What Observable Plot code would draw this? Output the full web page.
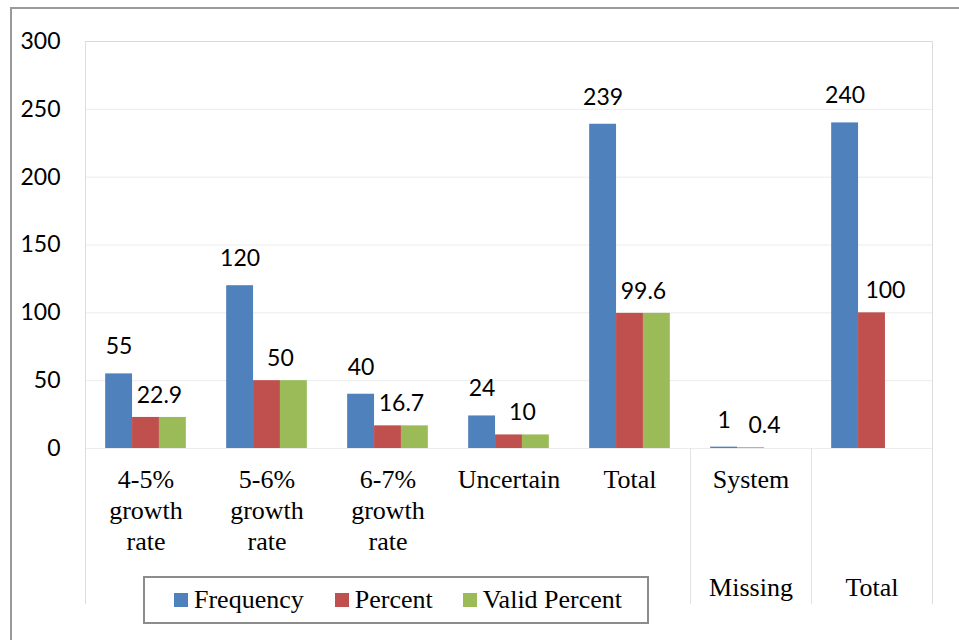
<!DOCTYPE html>
<html>
<head>
<meta charset="utf-8">
<script src="https://cdn.jsdelivr.net/npm/d3@7"></script>
<script src="https://cdn.jsdelivr.net/npm/@observablehq/plot@0.6"></script>
<style>
  html, body { margin: 0; padding: 0; background: #fff; }
  #wrap { position: relative; width: 959px; height: 640px; overflow: hidden; }
  #chart { position: absolute; left: 0; top: 0; }
  #border { position: absolute; left: 10px; top: 7px; width: 980px; height: 660px;
            border-left: 2px solid #9a9a9a; border-top: 2px solid #9a9a9a; pointer-events: none; }
  #legend { position: absolute; left: 143px; top: 576px; width: 502px; height: 44px;
            border: 2px solid #8c8c8c; background: #fff; display: flex; align-items: center;
            font-family: "Liberation Serif", "Times New Roman", serif; font-size: 26px; color: #000;
            box-sizing: content-box; }
  .item { display: flex; align-items: center; }
  .sw { width: 14px; height: 14px; margin-right: 6px; }
</style>
</head>
<body>
<div id="wrap">
  <div id="chart"></div>
  <div id="border"></div>
  <div id="legend"></div>
</div>
<script>
// ---- data ----
const categoryLabels = ["4-5%\ngrowth\nrate", "5-6%\ngrowth\nrate", "6-7%\ngrowth\nrate", "Uncertain", "Total", "System", ""];
const groupLabels = ["Valid", "Valid", "Valid", "Valid", "Valid", "Missing", "Total"];
const series = ["Frequency", "Percent", "Valid Percent"];
const colors = ["#4f81bd", "#c0504d", "#9bbb59"];
const frequency = [55, 120, 40, 24, 239, 1, 240];
const percent = [22.9, 50, 16.7, 10, 99.6, 0.4, 100];
const validPercent = [22.9, 50, 16.7, 10, 99.6, null, null];
const yTicks = [0, 50, 100, 150, 200, 250, 300];

// ---- build table ----
const values = [frequency, percent, validPercent];
const rows = [];
categoryLabels.forEach((c, i) => {
  series.forEach((s, si) => {
    const v = values[si][i];
    if (v != null) rows.push({cat: i, series: s, si, value: v});
  });
});
const cats = d3.range(categoryLabels.length);
const xDomain = [-0.75, series.length + 0.75];
const groupStarts = cats.filter(i => i > 0 && groupLabels[i] !== groupLabels[i - 1]);
const secondLevel = groupStarts.map(i => ({cat: i, label: groupLabels[i]}));

const plot = Plot.plot({
  width: 959,
  height: 640,
  marginLeft: 83,
  marginRight: 25,
  marginTop: 41,
  marginBottom: 36,
  style: {fontFamily: "Lato, 'Open Sans', sans-serif", fontSize: "23px", color: "#000", background: "transparent"},
  fx: {domain: cats, padding: 0, axis: null, label: null},
  x: {domain: xDomain, axis: null, label: null},
  y: {domain: [0, 300], range: [448, 41], axis: null, label: null},
  color: {domain: series, range: colors},
  marks: [
    Plot.gridY(yTicks.slice(0, -1), {stroke: "#ececec", strokeOpacity: 1}),
    Plot.ruleY([yTicks[yTicks.length - 1]], {stroke: "#d9d9d9"}),
    // plot area left and right edges, running down through the category area
    Plot.ruleX([cats[0]], {fx: d => d, x: xDomain[0], stroke: "#dcdcdc"}),
    Plot.ruleX([cats[cats.length - 1]], {fx: d => d, x: xDomain[1], stroke: "#dcdcdc"}),
    // separators between category groups, from the axis down to the frame bottom
    Plot.ruleX(groupStarts, {fx: d => d, x: xDomain[0], y1: 0, y2: null, stroke: "#e2e2e2"}),
    Plot.axisY(yTicks, {tickSize: 0, tickPadding: 25, fontSize: 23, fontFamily: "Lato", label: null}),
    Plot.rect(rows, {fx: "cat", x1: "si", x2: d => d.si + 1, y1: 0, y2: "value", fill: "series"}),
    Plot.text(rows.filter(d => d.series === "Frequency"), {
      fx: "cat", x: d => d.si + 0.5, y: "value", text: d => String(d.value),
      dy: -27, fontSize: 23, fontFamily: "Lato", fill: "#000"
    }),
    Plot.text(rows.filter(d => d.series === "Percent"), {
      fx: "cat", x: d => d.si + 1, y: "value", text: d => String(d.value),
      dy: -22, fontSize: 23, fontFamily: "Lato", fill: "#000"
    }),
    Plot.text(categoryLabels, {
      fx: (d, i) => i, y: 0, text: d => d, lineAnchor: "top", lineHeight: 1.18, dy: 18,
      fontSize: 26, fontFamily: "Liberation Serif", fill: "#000"
    }),
    Plot.text(secondLevel, {
      fx: "cat", y: 0, text: "label", lineAnchor: "top", dy: 129,
      fontSize: 26, fontFamily: "Liberation Serif", fill: "#000"
    })
  ]
});
document.getElementById("chart").appendChild(plot);

// ---- legend ----
const legend = document.getElementById("legend");
const gaps = [29, 31, 30];
series.forEach((s, i) => {
  const item = document.createElement("div");
  item.className = "item";
  item.style.marginLeft = gaps[i] + "px";
  const sw = document.createElement("span");
  sw.className = "sw";
  sw.style.background = colors[i];
  const t = document.createElement("span");
  t.textContent = s;
  item.appendChild(sw);
  item.appendChild(t);
  legend.appendChild(item);
});
</script>
</body>
</html>
